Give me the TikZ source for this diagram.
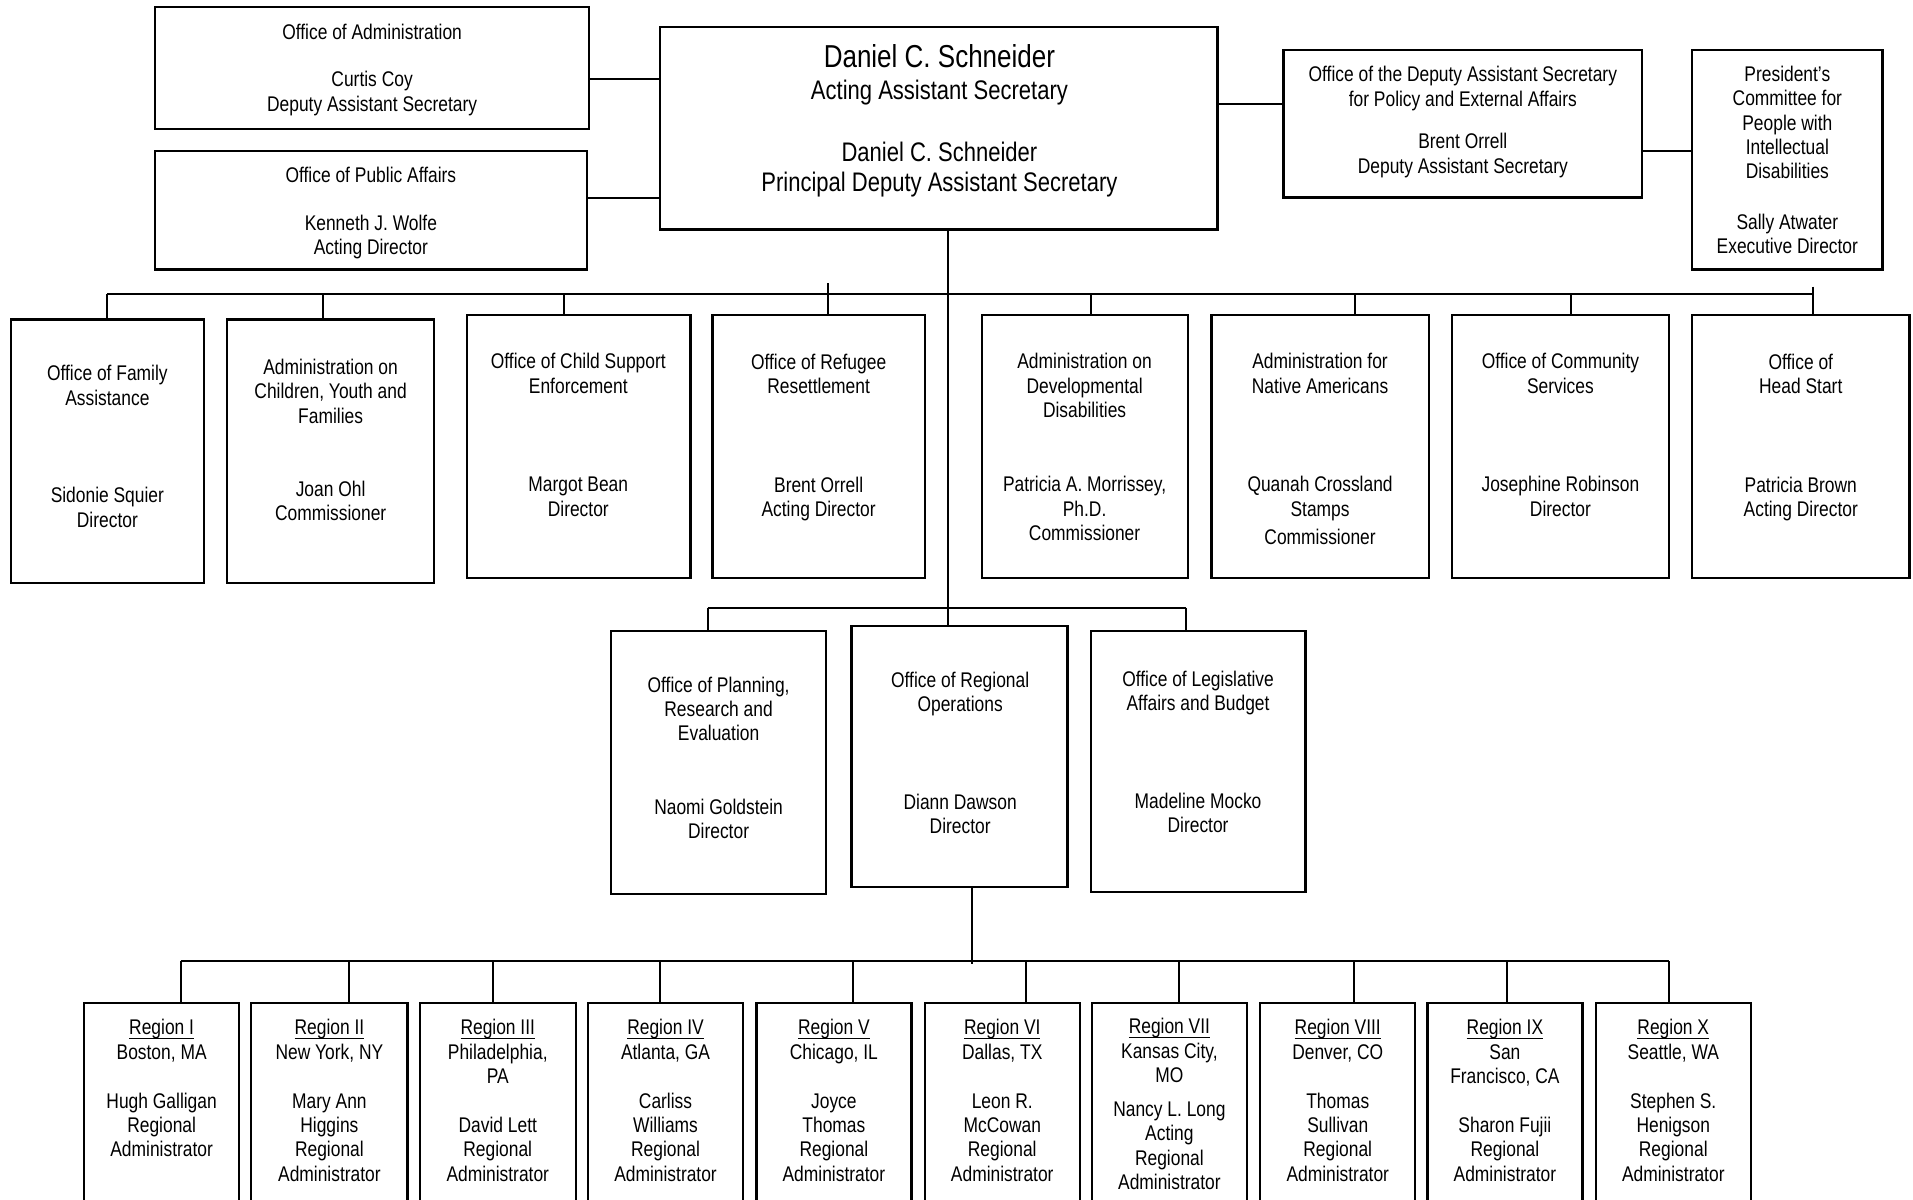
\documentclass[tikz,border=0pt]{standalone}
\usepackage{fontspec}
\setmainfont{Liberation Sans}[FakeStretch=0.82]
\usetikzlibrary{fit}
\newcommand\regul[1]{\setbox0\hbox{#1}\rlap{\rule[-1.9pt]{\wd0}{0.55pt}}\box0}
\begin{document}
\begin{tikzpicture}[x=0.5pt,y=-0.5pt,
  obox/.style={draw, line width=0.95pt, inner sep=0pt, rectangle},
  conn/.style={line width=0.8pt},
  txt/.style={align=center, inner sep=0pt, font=\fontsize{8.7}{10}\selectfont},
  bigtxt/.style={align=center, inner sep=0pt, font=\fontsize{11}{12.5}\selectfont}]
\useasboundingbox (0,0) rectangle (1568,983);
\clip (0,0) rectangle (1568,983);

% ---------- top level ----------
\node[obox, fit={(127,6)(483,106)}] (adm) {};
\node[txt] (admT) at (305,57) {Office of Administration\\[9.5pt]Curtis Coy\\Deputy Assistant Secretary};
\node[obox, fit={(127,124)(481,221)}] (pa) {};
\node[txt] (paT) at (304,175) {Office of Public Affairs\\[9.5pt]Kenneth J. Wolfe\\Acting Director};
\node[obox, fit={(541,22)(998,188)}] (ctr) {};
\node[bigtxt, font=\fontsize{13}{14}\selectfont] (ctr1) at (770,46) {Daniel C. Schneider};
\node[bigtxt] (ctr2) at (770,75.5) {Acting Assistant Secretary};
\node[bigtxt] (ctr3) at (770,139) {Daniel C. Schneider\\Principal Deputy Assistant Secretary};
\node[obox, fit={(1052,41)(1346,162)}] (das) {};
\node[txt] (dasT) at (1199,100) {Office of the Deputy Assistant Secretary\\for Policy and External Affairs\\[7.5pt]Brent Orrell\\Deputy Assistant Secretary};
\node[obox, fit={(1387,41)(1543,221)}] (pc) {};
\node[txt] (pcT) at (1465,131) {President’s\\Committee for\\People with\\Intellectual\\Disabilities\\[10.5pt]Sally Atwater\\Executive Director};

% ---------- second row ----------
\node[obox, fit={(9,262)(167,478)}] (fam) {};
\node[txt] (famT) at (88,366) {Office of Family\\Assistance\\[30pt]Sidonie Squier\\Director};
\node[obox, fit={(186,262)(356,478)}] (acyf) {};
\node[txt] (acyfT) at (271,360.5) {Administration on\\Children, Youth and\\Families\\[20pt]Joan Ohl\\Commissioner};
\node[obox, fit={(383,258)(566,474)}] (ocse) {};
\node[txt] (ocseT) at (474,356.5) {Office of Child Support\\Enforcement\\[30.5pt]Margot Bean\\Director};
\node[obox, fit={(584,258)(758,474)}] (orr) {};
\node[txt] (orrT) at (671,358.5) {Office of Refugee\\Resettlement\\[30.5pt]Brent Orrell\\Acting Director};
\node[obox, fit={(805,258)(974,474)}] (add) {};
\node[txt] (addT) at (889,366.5) {Administration on\\Developmental\\Disabilities\\[20.5pt]Patricia A. Morrissey,\\Ph.D.\\Commissioner};
\node[obox, fit={(993,258)(1171,474)}] (ana) {};
\node[txt] (anaT) at (1082,368) {Administration for\\Native Americans\\[30.5pt]Quanah Crossland\\Stamps\\[1.5pt]Commissioner};
\node[obox, fit={(1190,258)(1368,474)}] (ocs) {};
\node[txt] (ocsT) at (1279,356.5) {Office of Community\\Services\\[30.5pt]Josephine Robinson\\Director};
\node[obox, fit={(1387,258)(1565,474)}] (ohs) {};
\node[txt] (ohsT) at (1476,358.5) {Office of\\Head Start\\[30.5pt]Patricia Brown\\Acting Director};

% ---------- third row ----------
\node[obox, fit={(501,517)(677,733)}] (plan) {};
\node[txt] (planT) at (589,621) {Office of Planning,\\Research and\\Evaluation\\[20pt]Naomi Goldstein\\Director};
\node[obox, fit={(698,513)(875,727)}] (rops) {};
\node[txt] (ropsT) at (787,617) {Office of Regional\\Operations\\[30pt]Diann Dawson\\Director};
\node[obox, fit={(894,517)(1070,731)}] (leg) {};
\node[txt] (legT) at (982,616.5) {Office of Legislative\\Affairs and Budget\\[30pt]Madeline Mocko\\Director};

% ---------- regions ----------
\node[obox, fit={(69,822)(196,1000)}] (r1) {};
\node[txt] (r1T) at (132.5,892) {\regul{Region I}\\Boston, MA\\[10pt]Hugh Galligan\\Regional\\Administrator};
\node[obox, fit={(206,822)(334,1000)}] (r2) {};
\node[txt] (r2T) at (270,902) {\regul{Region II}\\New York, NY\\[10pt]Mary Ann\\Higgins\\Regional\\Administrator};
\node[obox, fit={(344,822)(472,1000)}] (r3) {};
\node[txt] (r3T) at (408,902) {\regul{Region III}\\Philadelphia,\\PA\\[10pt]David Lett\\Regional\\Administrator};
\node[obox, fit={(482,822)(609,1000)}] (r4) {};
\node[txt] (r4T) at (545.5,902) {\regul{Region IV}\\Atlanta, GA\\[10pt]Carliss\\Williams\\Regional\\Administrator};
\node[obox, fit={(620,822)(747,1000)}] (r5) {};
\node[txt] (r5T) at (683.5,902) {\regul{Region V}\\Chicago, IL\\[10pt]Joyce\\Thomas\\Regional\\Administrator};
\node[obox, fit={(758,822)(885,1000)}] (r6) {};
\node[txt] (r6T) at (821.5,902) {\regul{Region VI}\\Dallas, TX\\[10pt]Leon R.\\McCowan\\Regional\\Administrator};
\node[obox, fit={(895,822)(1022,1000)}] (r7) {};
\node[txt] (r7T) at (958.5,905) {\regul{Region VII}\\Kansas City,\\MO\\[4pt]Nancy L. Long\\Acting\\Regional\\Administrator};
\node[obox, fit={(1033,822)(1160,1000)}] (r8) {};
\node[txt] (r8T) at (1096.5,902) {\regul{Region VIII}\\Denver, CO\\[10pt]Thomas\\Sullivan\\Regional\\Administrator};
\node[obox, fit={(1170,822)(1297,1000)}] (r9) {};
\node[txt] (r9T) at (1233.5,902) {\regul{Region IX}\\San\\Francisco, CA\\[10pt]Sharon Fujii\\Regional\\Administrator};
\node[obox, fit={(1308,822)(1435,1000)}] (r10) {};
\node[txt] (r10T) at (1371.5,902) {\regul{Region X}\\Seattle, WA\\[10pt]Stephen S.\\Henigson\\Regional\\Administrator};

% ---------- connectors ----------
\coordinate (yA) at (0,65);
\coordinate (yB) at (0,162);
\coordinate (yC) at (0,85);
\coordinate (yD) at (0,124);
\draw[conn] (adm.east |- yA) -- (ctr.west |- yA);
\draw[conn] (pa.east |- yB) -- (ctr.west |- yB);
\draw[conn] (ctr.east |- yC) -- (das.west |- yC);
\draw[conn] (das.east |- yD) -- (pc.west |- yD);

\coordinate (tk) at (777,0);
\draw[conn] (ctr.south -| tk) -- (rops.north -| tk);

\coordinate (b1L) at (88,241);
\coordinate (b1R) at (1486,241);
\draw[conn] (b1L) -- (b1R);
\foreach \n/\x/\t in {fam/88/241, acyf/265/241, ocse/462/241, orr/679/232, add/894/241, ana/1111/241, ocs/1288/241, ohs/1486/235} {
  \coordinate (j\n) at (\x,\t);
  \draw[conn] (j\n) -- (\n.north -| j\n);
}

\coordinate (b2L) at (580,498);
\coordinate (b2R) at (972,498);
\draw[conn] (b2L) -- (b2R);
\draw[conn] (b2L) -- (plan.north -| b2L);
\draw[conn] (b2R) -- (leg.north -| b2R);

\coordinate (rb) at (797,790);
\draw[conn] (rops.south -| rb) -- (rb);
\coordinate (b3L) at (148,788);
\coordinate (b3R) at (1368,788);
\draw[conn] (b3L) -- (b3R);
\foreach \n/\x in {r1/148, r2/286, r3/404, r4/541, r5/699, r6/841, r7/966, r8/1110, r9/1235, r10/1368} {
  \coordinate (j\n) at (\x,788);
  \draw[conn] (j\n) -- (\n.north -| j\n);
}
\end{tikzpicture}
\end{document}
